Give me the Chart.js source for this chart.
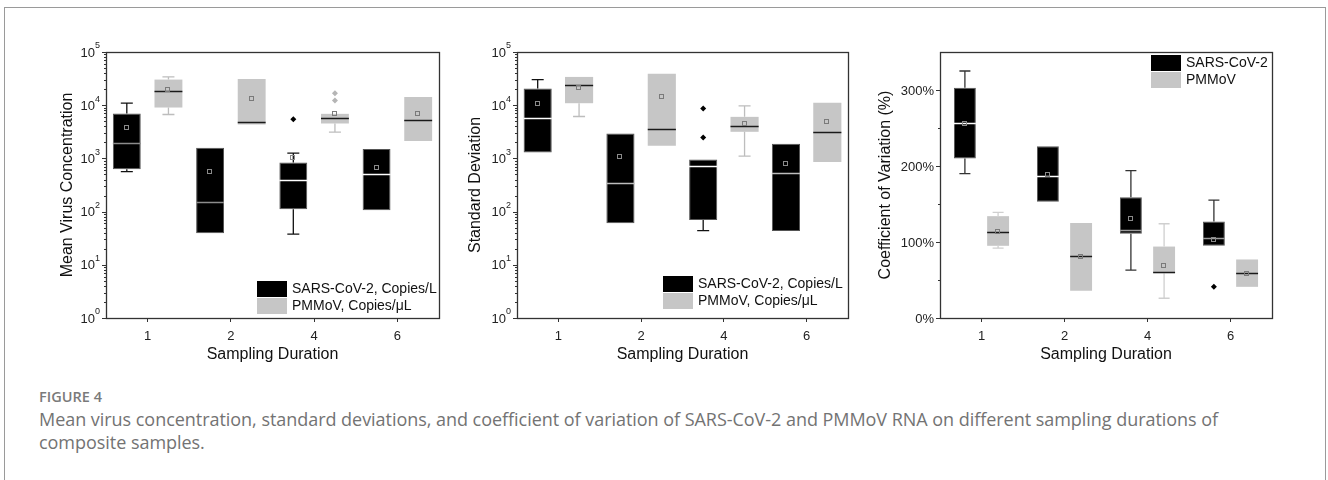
<!DOCTYPE html>
<html>
<head>
<meta charset="utf-8">
<script src="https://cdn.jsdelivr.net/npm/chart.js@4.4.1/dist/chart.umd.min.js"></script>
<style>
  html, body { margin: 0; padding: 0; background: #fff; }
  body { width: 1328px; height: 480px; position: relative; overflow: hidden; }
  #frame { position: absolute; left: 4px; top: 7px; width: 1320px; height: 520px;
           border: 1px solid #9a9a9a; border-bottom: none; }
  canvas { position: absolute; top: 0; }
  #c1 { left: 54px; }
  #c2 { left: 462px; }
  #c3 { left: 872px; }
  .fig { position: absolute; left: 39px; top: 387px; font-family: "Open Sans", sans-serif;
         font-weight: 600; font-size: 14.5px; color: #7a7a7a; white-space: nowrap; }
  .cap { position: absolute; left: 39px; top: 408px; font-family: "Open Sans", sans-serif;
         font-size: 18px; line-height: 23px; color: #737373; white-space: nowrap; }
</style>
</head>
<body>
<div id="frame"></div>
<canvas id="c1" width="390" height="368"></canvas>
<canvas id="c2" width="391" height="368"></canvas>
<canvas id="c3" width="405" height="368"></canvas>
<div class="fig" id="fig">FIGURE 4</div>
<div class="cap" id="cap"><span id="capLine">Mean virus concentration, standard deviations, and coefficient of variation of SARS-CoV-2 and PMMoV RNA on different sampling durations of</span><br>composite samples.</div>

<script>
// categories
const durations = ['1', '2', '4', '6'];

// Mean virus concentration (log scale)
const concSarsQ1 = [622, 39.3, 111, 106];
const concSarsQ3 = [6980, 1585, 841, 1496];
const concSarsMedian = [1967, 154, 387, 508];
const concSarsMean = [3870, 587, 1075, 698];
const concSarsMin = [562, 39.3, 37.6, 106];
const concSarsMax = [10900, 1585, 1259, 1496];
const concSarsOutliers = [[], [], [5465], []];

const concPmmQ1 = [9040, 4340, 4530, 2113];
const concPmmQ3 = [30300, 31170, 6880, 14320];
const concPmmMedian = [18800, 4730, 5790, 5160];
const concPmmMean = [19950, 13530, 7080, 7180];
const concPmmMin = [6680, 4340, 3118, 2113];
const concPmmMax = [34000, 31170, 6880, 14320];
const concPmmOutliers = [[], [], [12230, 16800], []];

// Standard deviation (log scale)
const sdSarsQ1 = [1296, 60.4, 69.8, 43.4];
const sdSarsQ3 = [20540, 2942, 957, 1884];
const sdSarsMedian = [5870, 345, 718, 539];
const sdSarsMean = [11060, 1122, null, 817];
const sdSarsMin = [1296, 60.4, 44, 43.4];
const sdSarsMax = [30280, 2942, 957, 1884];
const sdSarsOutliers = [[], [], [2477, 8660], []];

const sdPmmQ1 = [10900, 1728, 3162, 853];
const sdPmmQ3 = [34000, 39200, 6040, 11060];
const sdPmmMedian = [24400, 3548, 3981, 3073];
const sdPmmMean = [22400, 14750, 4530, 5012];
const sdPmmMin = [6130, 1728, 1106, 853];
const sdPmmMax = [34000, 39200, 9716, 11060];
const sdPmmOutliers = [[], [], [], []];

// Coefficient of variation (%)
const cvSarsQ1 = [210, 153, 111, 95];
const cvSarsQ3 = [303, 226, 159, 127];
const cvSarsMedian = [256, 187, 116, 105];
const cvSarsMean = [257, 189, 132, 104];
const cvSarsMin = [190, 153, 63, 95];
const cvSarsMax = [325, 226, 194, 155];
const cvSarsOutliers = [[], [], [], [41]];

const cvPmmQ1 = [95, 36, 59, 41];
const cvPmmQ3 = [134, 125, 94, 77];
const cvPmmMedian = [113, 82, 61, 59];
const cvPmmMean = [115, 82, 70, 59];
const cvPmmMin = [92, 36, 26, 41];
const cvPmmMax = [139, 125, 124, 77];
const cvPmmOutliers = [[], [], [], []];

// tick values
const logTicks = [1, 10, 100, 1000, 10000, 100000];
const cvTicks = [0, 100, 200, 300];
const cvMinorTicks = [50, 150, 250];

Chart.defaults.font.family = '"Liberation Sans", Arial, sans-serif';
Chart.defaults.color = '#222';

const SARS_COLOR = '#000000';
const PMM_COLOR = '#c6c6c6';

// draws whiskers, medians, means, outliers, frame, y ticks and legend
const boxExtras = {
  id: 'boxExtras',
  afterDatasetsDraw(chart) {
    const ctx = chart.ctx;
    const y = chart.scales.y;
    const ext = chart.config.options.boxExtras;
    chart.data.datasets.forEach((ds, d) => {
      const meta = chart.getDatasetMeta(d);
      const st = ds.boxStyle;
      meta.data.forEach((bar, i) => {
        const x = bar.x, w = bar.width;
        const top = y.getPixelForValue(ds.q3[i]);
        const bot = y.getPixelForValue(ds.q1[i]);
        const yMax = y.getPixelForValue(ds.max[i]);
        const yMin = y.getPixelForValue(ds.min[i]);
        ctx.save();
        ctx.strokeStyle = st.whisker;
        ctx.lineWidth = 1.3;
        ctx.beginPath();
        if (yMax < top - 0.5) {
          ctx.moveTo(x, top); ctx.lineTo(x, yMax);
          ctx.moveTo(x - ext.cap / 2, yMax); ctx.lineTo(x + ext.cap / 2, yMax);
        }
        if (yMin > bot + 0.5) {
          ctx.moveTo(x, bot); ctx.lineTo(x, yMin);
          ctx.moveTo(x - ext.cap / 2, yMin); ctx.lineTo(x + ext.cap / 2, yMin);
        }
        ctx.stroke();
        // median
        const ym = Math.round(y.getPixelForValue(ds.median[i])) + 0.5;
        ctx.strokeStyle = Array.isArray(st.median) ? st.median[i] : st.median;
        ctx.lineWidth = 1.5;
        ctx.beginPath();
        ctx.moveTo(x - w / 2, ym); ctx.lineTo(x + w / 2, ym);
        ctx.stroke();
        // mean
        if (ds.mean[i] != null) {
          const yv = Math.round(y.getPixelForValue(ds.mean[i])) + 0.5;
          ctx.strokeStyle = st.mean;
          ctx.lineWidth = 1;
          ctx.strokeRect(Math.round(x) - 2.5, yv - 2, 4, 4);
        }
        // outliers
        ctx.fillStyle = st.outlier;
        ds.outliers[i].forEach(v => {
          const yo = y.getPixelForValue(v);
          ctx.beginPath();
          ctx.moveTo(x, yo - 3); ctx.lineTo(x + 3, yo);
          ctx.lineTo(x, yo + 3); ctx.lineTo(x - 3, yo);
          ctx.closePath();
          ctx.fill();
        });
        ctx.restore();
      });
    });
  },
  afterDraw(chart) {
    const ctx = chart.ctx;
    const a = chart.chartArea;
    const y = chart.scales.y;
    const ext = chart.config.options.boxExtras;
    ctx.save();
    // plot frame
    ctx.strokeStyle = '#333';
    ctx.lineWidth = 1.3;
    ctx.strokeRect(Math.round(a.left) + 0.5, Math.round(a.top) + 0.5,
      Math.round(a.right - a.left), Math.round(a.bottom - a.top));
    // y ticks
    ctx.lineWidth = 1;
    ctx.beginPath();
    ext.major.forEach(v => {
      const p = Math.round(y.getPixelForValue(v)) + 0.5;
      ctx.moveTo(a.left - 4, p); ctx.lineTo(a.left, p);
    });
    ext.minor.forEach(v => {
      const p = Math.round(y.getPixelForValue(v)) + 0.5;
      ctx.moveTo(a.left - 2, p); ctx.lineTo(a.left, p);
    });
    ctx.stroke();
    // y labels
    ctx.fillStyle = '#222';
    ctx.textBaseline = 'middle';
    ext.major.forEach(v => {
      const p = y.getPixelForValue(v);
      if (ext.log) {
        const e = String(Math.round(Math.log10(v)));
        ctx.font = '9px "Liberation Sans", Arial, sans-serif';
        const ew = ctx.measureText(e).width;
        ctx.textAlign = 'left';
        const right = a.left - 6;
        ctx.fillText(e, right - ew, p - 6);
        ctx.font = '13px "Liberation Sans", Arial, sans-serif';
        ctx.textAlign = 'right';
        ctx.fillText('10', right - ew, p + 1);
      } else {
        ctx.font = '13px "Liberation Sans", Arial, sans-serif';
        ctx.textAlign = 'right';
        ctx.fillText(v + '%', a.left - 6, p + 1);
      }
    });
    // legend
    const lg = ext.legend;
    const lx = lg.anchorRight ? a.right - lg.dx : a.left + lg.dx;
    const ly = lg.anchorBottom ? a.bottom - lg.dy : a.top + lg.dy;
    ctx.font = '14px "Liberation Sans", Arial, sans-serif';
    ctx.textAlign = 'left';
    chart.data.datasets.forEach((ds, d) => {
      const ry = ly + d * 17;
      ctx.fillStyle = ds.backgroundColor;
      ctx.fillRect(lx, ry, 30, 16);
      ctx.fillStyle = '#111';
      ctx.fillText(ds.label, lx + 35, ry + 8.5);
    });
    ctx.restore();
  }
};

function makeDataset(label, color, q1, q3, median, mean, min, max, outliers, style) {
  return {
    label: label,
    data: q1.map((v, i) => [v, q3[i]]),
    backgroundColor: color,
    borderColor: color === SARS_COLOR ? '#555' : color,
    borderWidth: color === SARS_COLOR ? 1 : 0,
    borderSkipped: false,
    q1: q1, q3: q3, median: median, mean: mean, min: min, max: max, outliers: outliers,
    boxStyle: style
  };
}

function makeChart(id, opts) {
  new Chart(document.getElementById(id), {
    type: 'bar',
    data: { labels: durations, datasets: opts.datasets },
    options: {
      responsive: false,
      animation: false,
      events: [],
      categoryPercentage: opts.catPct,
      barPercentage: opts.barPct,
      layout: { padding: { top: 52, right: 5, left: 0, bottom: 0 } },
      plugins: { legend: { display: false }, tooltip: { enabled: false } },
      boxExtras: opts.extras,
      scales: {
        x: {
          offset: true,
          grid: { display: true, drawOnChartArea: false, drawTicks: true, tickLength: 4,
                  color: '#333', offset: false },
          border: { display: false },
          ticks: { padding: 7, font: { size: 13 }, color: '#222' },
          title: { display: true, text: 'Sampling Duration', font: { size: 16 }, color: '#111',
                   padding: { top: 2, bottom: 4 } },
          afterFit(s) { s.height = 50; }
        },
        y: Object.assign({
          grid: { display: false },
          border: { display: false },
          ticks: { display: false },
          title: { display: true, text: opts.yTitle, font: { size: 16 }, color: '#111',
                   padding: { top: 4, bottom: 4 } },
          afterFit(s) { s.width = opts.yWidth; }
        }, opts.yScale)
      }
    },
    plugins: [boxExtras]
  });
}

const logMinor = [];
for (let e = 0; e < 5; e++) {
  for (let m = 2; m <= 9; m++) logMinor.push(m * Math.pow(10, e));
}

const sarsStyle = (medians) => ({ whisker: '#111', median: medians, mean: '#8a8a8a', outlier: '#000' });
const pmmStyle = { whisker: '#bdbdbd', median: '#1a1a1a', mean: '#7a7a7a', outlier: '#b5b5b5' };

makeChart('c1', {
  yTitle: 'Mean Virus Concentration',
  yWidth: 52,
  catPct: 1.0,
  barPct: 0.67,
  yScale: { type: 'logarithmic', min: 1, max: 100000 },
  extras: { log: true, major: logTicks, minor: logMinor, cap: 12,
            legend: { anchorRight: true, anchorBottom: true, dx: 182, dy: 37 } },
  datasets: [
    makeDataset('SARS-CoV-2, Copies/L', SARS_COLOR, concSarsQ1, concSarsQ3, concSarsMedian,
      concSarsMean, concSarsMin, concSarsMax, concSarsOutliers,
      sarsStyle(['#8c8c8c', '#8c8c8c', '#ffffff', '#ffffff'])),
    makeDataset('PMMoV, Copies/μL', PMM_COLOR, concPmmQ1, concPmmQ3, concPmmMedian,
      concPmmMean, concPmmMin, concPmmMax, concPmmOutliers, pmmStyle)
  ]
});

makeChart('c2', {
  yTitle: 'Standard Deviation',
  yWidth: 55,
  catPct: 1.0,
  barPct: 0.68,
  yScale: { type: 'logarithmic', min: 1, max: 100000 },
  extras: { log: true, major: logTicks, minor: logMinor, cap: 12,
            legend: { anchorRight: true, anchorBottom: true, dx: 185, dy: 42 } },
  datasets: [
    makeDataset('SARS-CoV-2, Copies/L', SARS_COLOR, sdSarsQ1, sdSarsQ3, sdSarsMedian,
      sdSarsMean, sdSarsMin, sdSarsMax, sdSarsOutliers,
      sarsStyle(['#ffffff', '#bdbdbd', '#ffffff', '#bdbdbd'])),
    makeDataset('PMMoV, Copies/μL', PMM_COLOR, sdPmmQ1, sdPmmQ3, sdPmmMedian,
      sdPmmMean, sdPmmMin, sdPmmMax, sdPmmOutliers, pmmStyle)
  ]
});

makeChart('c3', {
  yTitle: 'Coefficient of Variation (%)',
  yWidth: 68,
  catPct: 0.8,
  barPct: 0.66,
  yScale: { type: 'linear', min: 0, max: 350 },
  extras: { log: false, major: cvTicks, minor: cvMinorTicks, cap: 11,
            legend: { anchorRight: true, anchorBottom: false, dx: 121, dy: 3 } },
  datasets: [
    makeDataset('SARS-CoV-2', SARS_COLOR, cvSarsQ1, cvSarsQ3, cvSarsMedian,
      cvSarsMean, cvSarsMin, cvSarsMax, cvSarsOutliers,
      Object.assign(sarsStyle(['#ffffff', '#ffffff', '#9a9a9a', '#9a9a9a']), { whisker: '#333' })),
    makeDataset('PMMoV', PMM_COLOR, cvPmmQ1, cvPmmQ3, cvPmmMedian,
      cvPmmMean, cvPmmMin, cvPmmMax, cvPmmOutliers, Object.assign({}, pmmStyle, { whisker: '#cfcfcf' }))
  ]
});

// stretch caption text so its lines span the same width as in the figure
function fitSpacing(measureEl, applyEl, target) {
  const w = measureEl.getBoundingClientRect().width;
  const n = measureEl.textContent.length;
  applyEl.style.letterSpacing = ((target - w) / n).toFixed(3) + 'px';
}
fitSpacing(document.getElementById('capLine'), document.getElementById('cap'), 1179);
fitSpacing(document.getElementById('fig'), document.getElementById('fig'), 63);
</script>
</body>
</html>
